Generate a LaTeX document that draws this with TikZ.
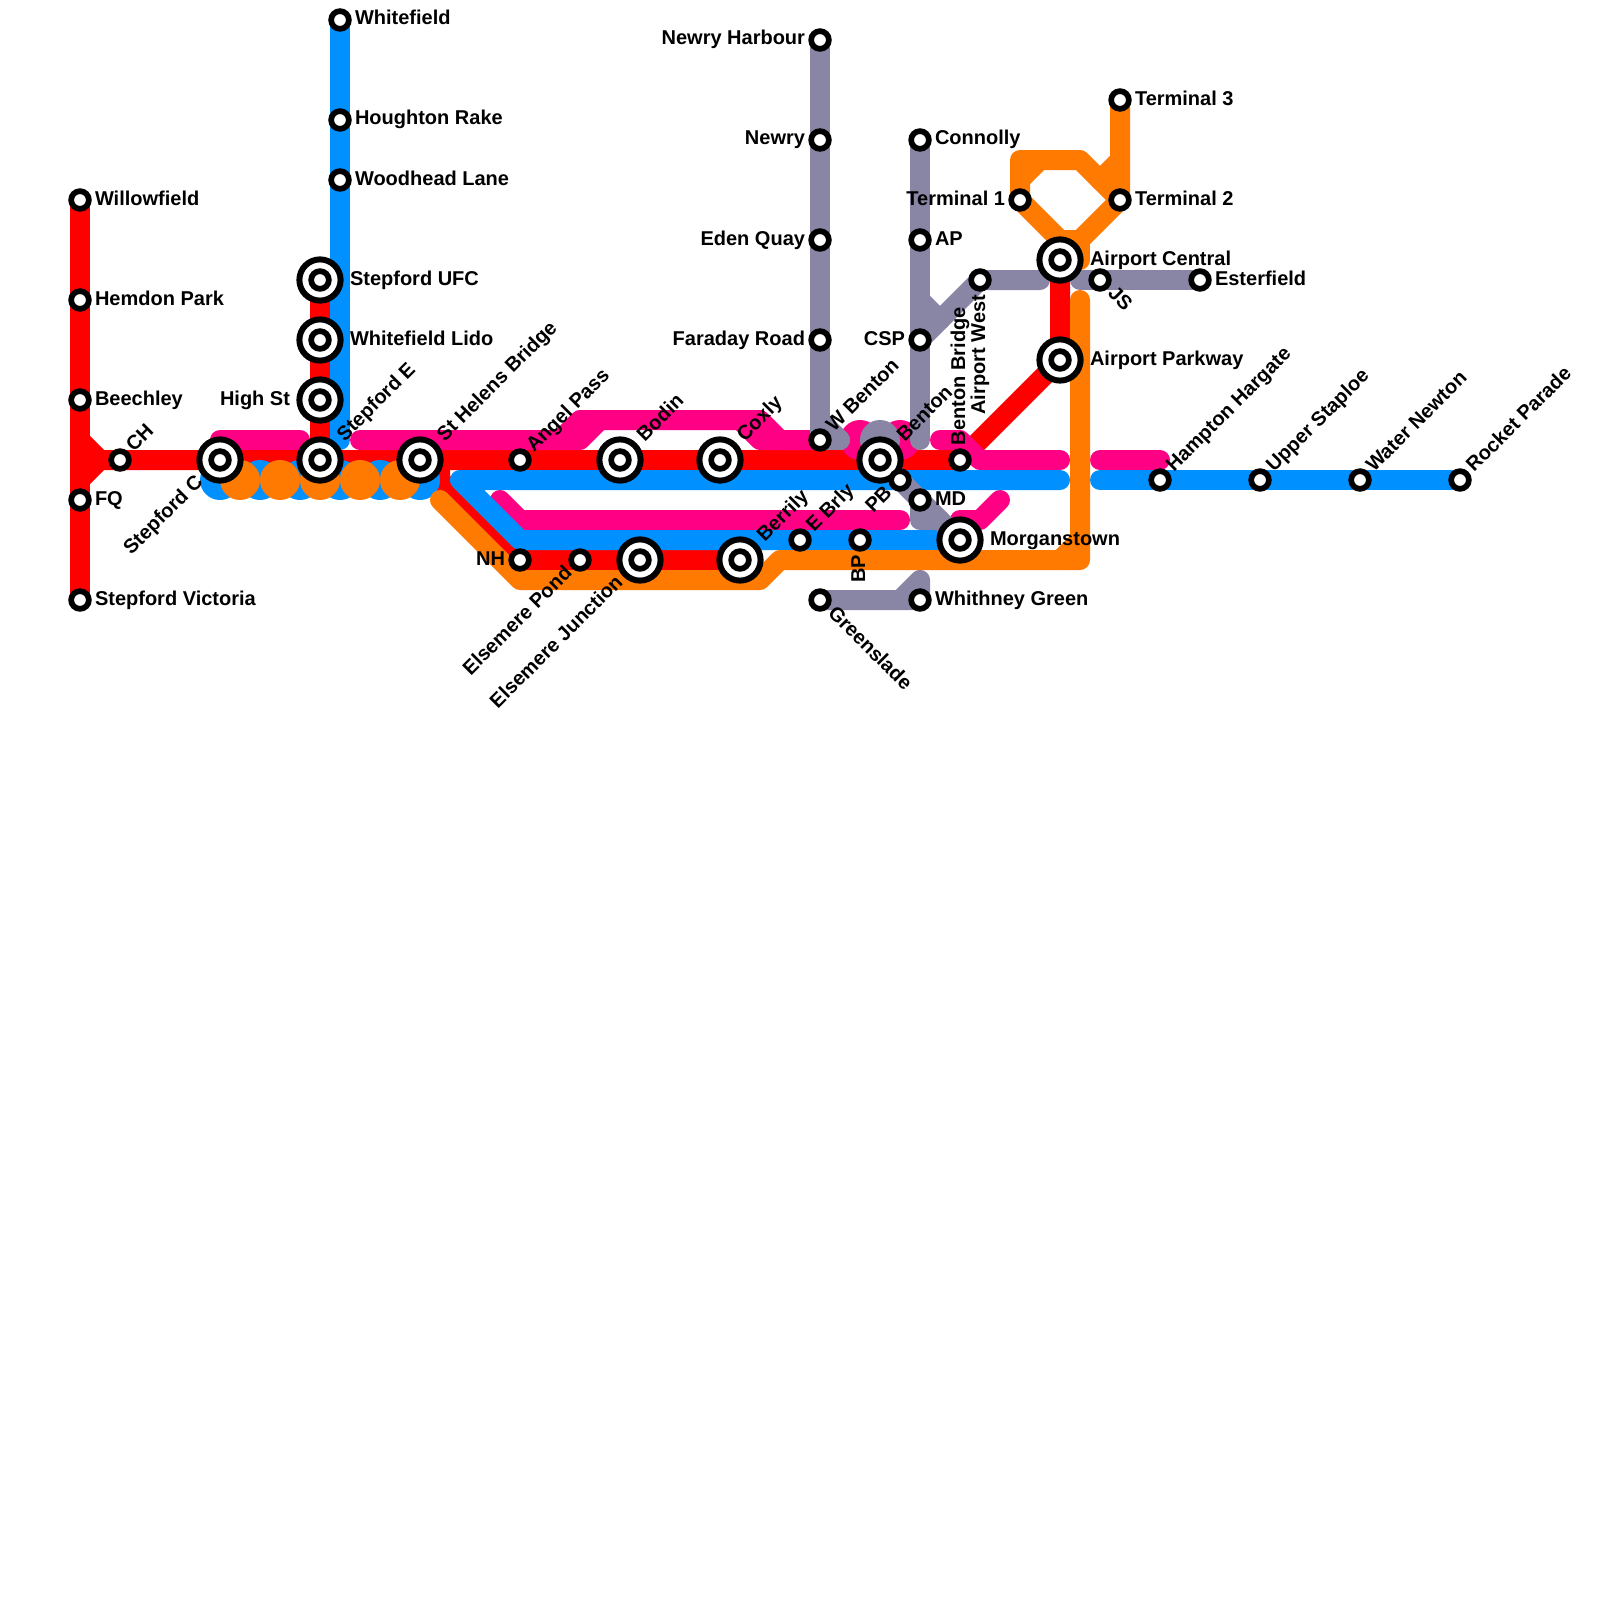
\documentclass[tikz,border=0pt]{standalone}
\usepackage{fontspec}
\setmainfont{Liberation Sans}
\usetikzlibrary{calc}
\definecolor{lred}{RGB}{255,0,0}
\definecolor{lpink}{RGB}{255,0,132}
\definecolor{lblue}{RGB}{0,144,255}
\definecolor{lgray}{RGB}{136,133,165}
\definecolor{lorange}{RGB}{255,122,0}
\tikzset{
  lineway/.style={line width=10pt,line cap=round,line join=round},
  ringsmall/.style={circle,draw=black,fill=white,line width=2.85pt,minimum size=8.85pt,inner sep=0pt,outer sep=0pt},
  ringbig/.style={circle,draw=black,fill=white,line width=3pt,minimum size=20.6pt,inner sep=0pt,outer sep=0pt},
  lab/.style={font=\bfseries\fontsize{10}{12}\selectfont,inner sep=0pt,outer sep=0pt,text=black},
}
% name, rotation, anchor, distance, text
\newcommand{\lab}[5]{\node[lab,rotate=#2,anchor=#3] (l-#1) at ($(#1)+({-(#2)}:#4)+({90-(#2)}:5)$) {#5};}
\begin{document}
\begin{tikzpicture}[x=0.5pt,y=-0.5pt]
\fill[white] (0,0) rectangle (1600,1600);
\useasboundingbox (0,0) rectangle (1600,1600);
% station positions
\foreach \n/\x/\y in {willowfield/80/200,hemdon/80/300,beechley/80/400,fq/80/500,victoria/80/600,ch/120/460,
 stepc/220/460,stepe/320/460,sthelens/420/460,angel/520/460,bodin/620/460,coxly/720/460,benton/880/460,bbridge/960/460,
 pb/900/480,md/920/500,morgan/960/540,bp/860/540,ebrly/800/540,berrily/740/560,ejunction/640/560,epond/580/560,nh/520/560,
 whitefield/340/20,houghton/340/120,woodhead/340/180,ufc/320/280,lido/320/340,highst/320/400,
 newryh/820/40,newry/820/140,eden/820/240,faraday/820/340,wbenton/820/440,connolly/920/140,ap/920/240,csp/920/340,
 awest/980/280,term1/1020/200,acentral/1060/260,aparkway/1060/360,js/1100/280,esterfield/1200/280,term3/1120/100,term2/1120/200,
 hampton/1160/480,upper/1260/480,water/1360/480,rocket/1460/480,whithney/920/600,greenslade/820/600}
 {\coordinate (\n) at (\x,\y);}
% red
\draw[lineway,lred] (willowfield) -- (victoria);
\draw[lineway,lred] (80,440) -- (100,460) -- (80,480);
\draw[lineway,lred] (100,460) -- (ch) -- (stepc) -- (stepe) -- (sthelens) -- (angel) -- (bodin) -- (coxly) -- (benton) -- (bbridge) -- (aparkway) -- (acentral);
\draw[lineway,lred] (ufc) -- (lido) -- (highst) -- (stepe);
\draw[lineway,lred] (440,460) -- (440,480) -- (nh) -- (epond) -- (ejunction) -- (berrily);
% pink
\draw[lineway,lpink] (220,440) -- (300,440);
\draw[lineway,lpink] (360,440) -- (580,440) -- (600,420);
\draw[lineway,lpink] (560,440) -- (580,420) -- (760,420) -- (780,440) -- (wbenton);
\draw[lineway,lpink] (740,420) -- (760,440) -- (800,440);
\fill[lpink] (860,440) circle (20);
\fill[lpink] (900,440) circle (20);
\draw[lineway,lpink] (940,440) -- (960,440) -- (980,460) -- (1060,460);
\draw[lineway,lpink] (1100,460) -- (1160,460);
\draw[lineway,lpink] (500,500) -- (520,520) -- (900,520);
\draw[lineway,lpink] (960,520) -- (980,520) -- (1000,500);
% blue
\draw[lineway,lblue] (whitefield) -- (houghton) -- (woodhead) -- (340,440);
\foreach \x in {220,260,300,340,380,420} {\fill[lblue] (\x,480) circle (20);}
\draw[lineway,lblue] (1060,480) -- (460,480) -- (520,540) -- (morgan);
\draw[lineway,lblue] (1100,480) -- (hampton) -- (upper) -- (water) -- (rocket);
% gray
\draw[lineway,lgray] (newryh) -- (newry) -- (eden) -- (faraday) -- (wbenton) -- (840,440);
\draw[lineway,lgray] (820,420) -- (840,440);
\draw[lineway,lgray] (connolly) -- (ap) -- (csp) -- (920,440);
\draw[lineway,lgray] (920,300) -- (940,320);
\draw[lineway,lgray] (csp) -- (awest) -- (1040,280);
\draw[lineway,lgray] (1080,280) -- (js) -- (esterfield);
\fill[lgray] (880,440) circle (20);
\draw[lineway,lgray] (benton) -- (morgan);
\draw[lineway,lgray] (md) -- (920,520) -- (940,520);
\draw[lineway,lgray] (greenslade) -- (whithney) -- (920,580) -- (900,600);
% orange
\foreach \x in {240,280,320,360,400} {\fill[lorange] (\x,480) circle (20);}
\draw[lineway,lorange] (440,500) -- (520,580) -- (760,580) -- (780,560) -- (1080,560) -- (1080,300);
\draw[lineway,lorange] (1060,560) -- (1080,540);
\draw[lineway,lorange] (term3) -- (term2) -- (1080,240) -- (1060,240) -- (term1) -- (1020,160) -- (1080,160) -- (term2);
\draw[lineway,lorange] (1120,160) -- (1100,180);
\draw[lineway,lorange] (1020,180) -- (1040,160);
\draw[lineway,lorange] (1080,240) -- (1080,260);
\draw[lineway,lorange] (1060,240) -- (acentral);
% stations
\foreach \n in {stepc,stepe,sthelens,bodin,coxly,benton,morgan,berrily,ejunction,ufc,lido,highst,acentral,aparkway}
 {\node[ringbig] (b-\n) at (\n) {};}
\foreach \n in {willowfield,hemdon,beechley,fq,victoria,ch,stepc,stepe,sthelens,angel,bodin,coxly,benton,bbridge,
 pb,md,morgan,bp,ebrly,berrily,ejunction,epond,nh,whitefield,houghton,woodhead,ufc,lido,highst,
 newryh,newry,eden,faraday,wbenton,connolly,ap,csp,awest,term1,acentral,aparkway,js,esterfield,term3,term2,
 hampton,upper,water,rocket,whithney,greenslade}
 {\node[ringsmall] (s-\n) at (\n) {};}
% labels
\lab{willowfield}{0}{base west}{15}{Willowfield}
\lab{hemdon}{0}{base west}{15}{Hemdon Park}
\lab{beechley}{0}{base west}{15}{Beechley}
\lab{fq}{0}{base west}{15}{FQ}
\lab{victoria}{0}{base west}{15}{Stepford Victoria}
\lab{ch}{45}{base west}{15}{CH}
\lab{stepc}{45}{base east}{-28}{Stepford C}
\lab{stepe}{45}{base west}{30}{Stepford E}
\lab{sthelens}{45}{base west}{30}{St Helens Bridge}
\lab{angel}{45}{base west}{15}{Angel Pass}
\lab{bodin}{45}{base west}{30}{Bodin}
\lab{coxly}{45}{base west}{30}{Coxly}
\lab{wbenton}{45}{base west}{15}{W Benton}
\lab{benton}{45}{base west}{30}{Benton}
\lab{bbridge}{90}{base west}{15}{Benton Bridge}
\lab{pb}{45}{base east}{-15}{PB}
\lab{md}{0}{base west}{15}{MD}
\lab{morgan}{0}{base west}{30}{Morganstown}
\lab{bp}{90}{base east}{-15}{BP}
\lab{ebrly}{45}{base west}{15}{E Brly}
\lab{berrily}{45}{base west}{30}{Berrily}
\lab{ejunction}{45}{base east}{-28}{Elsemere Junction}
\lab{epond}{45}{base east}{-15}{Elsemere Pond}
\lab{nh}{0}{base east}{-15}{NH}
\lab{whitefield}{0}{base west}{15}{Whitefield}
\lab{houghton}{0}{base west}{15}{Houghton Rake}
\lab{woodhead}{0}{base west}{15}{Woodhead Lane}
\lab{ufc}{0}{base west}{30}{Stepford UFC}
\lab{lido}{0}{base west}{30}{Whitefield Lido}
\lab{highst}{0}{base east}{-30}{High St}
\lab{newryh}{0}{base east}{-15}{Newry Harbour}
\lab{newry}{0}{base east}{-15}{Newry}
\lab{eden}{0}{base east}{-15}{Eden Quay}
\lab{faraday}{0}{base east}{-15}{Faraday Road}
\lab{connolly}{0}{base west}{15}{Connolly}
\lab{ap}{0}{base west}{15}{AP}
\lab{csp}{0}{base east}{-15}{CSP}
\lab{awest}{90}{base east}{-15}{Airport West}
\lab{term1}{0}{base east}{-15}{Terminal 1}
\lab{acentral}{0}{base west}{30}{Airport Central}
\lab{aparkway}{0}{base west}{30}{Airport Parkway}
\lab{js}{-45}{base west}{15}{JS}
\lab{esterfield}{0}{base west}{15}{Esterfield}
\lab{term3}{0}{base west}{15}{Terminal 3}
\lab{term2}{0}{base west}{15}{Terminal 2}
\lab{hampton}{45}{base west}{15}{Hampton Hargate}
\lab{upper}{45}{base west}{15}{Upper Staploe}
\lab{water}{45}{base west}{15}{Water Newton}
\lab{rocket}{45}{base west}{15}{Rocket Parade}
\lab{whithney}{0}{base west}{15}{Whithney Green}
\lab{greenslade}{-45}{base west}{15}{Greenslade}
\end{tikzpicture}
\end{document}
